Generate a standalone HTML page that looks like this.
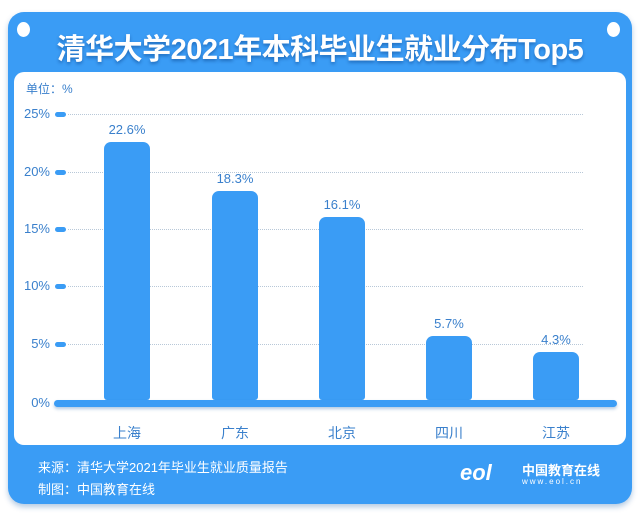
<!DOCTYPE html>
<html><head><meta charset="utf-8"><style>
body{margin:0;width:640px;height:514px;background:#fff;position:relative;overflow:hidden;font-family:"Liberation Sans","Noto Sans CJK SC",sans-serif}
.card{position:absolute;left:8px;top:12px;width:624px;height:492px;background:#3a9cf5;border-radius:16px;box-shadow:0 3px 6px rgba(0,80,160,.3)}
.panel{position:absolute;left:14px;top:72px;width:612px;height:373px;background:#fff;border-radius:10px}
.title{position:absolute;left:0;width:640px;top:26px;text-align:center;color:#fff;font-size:29px;font-weight:bold;text-shadow:0 2px 3px rgba(0,50,120,.45);letter-spacing:-0.5px}
.dot{position:absolute;width:13px;height:15px;border-radius:50%;background:#fff;top:22px}
.yl{position:absolute;right:590px;font-size:13px;color:#3a80cc;text-align:right}
.tick{position:absolute;left:55px;width:11px;height:5px;border-radius:3px;background:#3a9cf5}
.grid{position:absolute;left:68px;width:515px;border-top:1.5px dotted #b8c8d8}
.bar{position:absolute;width:46px;background:#3a9cf5;border-radius:7px 7px 3px 3px}
.vl{position:absolute;width:80px;text-align:center;font-size:13px;color:#3a80cc}
.cl{position:absolute;width:80px;text-align:center;font-size:14px;color:#3a80cc;top:423px}
.ft{position:absolute;left:38px;color:#fff;font-size:13px}
</style></head><body>
<div class="card"></div>
<div class="dot" style="left:17px"></div><div class="dot" style="left:607px"></div>
<div class="title">清华大学2021年本科毕业生就业分布Top5</div>
<div class="panel"></div>
<div style="position:absolute;left:26px;top:80px;font-size:12px;color:#3a80cc">单位：%</div>
<div class="yl" style="top:106px">25%</div><div class="tick" style="top:112px"></div><div class="grid" style="top:114px"></div>
<div class="yl" style="top:164px">20%</div><div class="tick" style="top:170px"></div><div class="grid" style="top:172px"></div>
<div class="yl" style="top:221px">15%</div><div class="tick" style="top:227px"></div><div class="grid" style="top:229px"></div>
<div class="yl" style="top:278px">10%</div><div class="tick" style="top:284px"></div><div class="grid" style="top:286px"></div>
<div class="yl" style="top:336px">5%</div><div class="tick" style="top:342px"></div><div class="grid" style="top:344px"></div>
<div class="yl" style="top:395px">0%</div>
<div class="bar" style="left:104px;top:142px;height:258px"></div>
<div class="bar" style="left:212px;top:191px;height:209px"></div>
<div class="bar" style="left:319px;top:217px;height:183px"></div>
<div class="bar" style="left:426px;top:336px;height:64px"></div>
<div class="bar" style="left:533px;top:352px;height:48px"></div>
<div style="position:absolute;left:54px;top:400px;width:563px;height:7px;border-radius:4px;background:#3a9cf5;box-shadow:0 2px 3px rgba(0,80,160,.3)"></div>
<div class="vl" style="left:87px;top:122px">22.6%</div>
<div class="vl" style="left:195px;top:171px">18.3%</div>
<div class="vl" style="left:302px;top:197px">16.1%</div>
<div class="vl" style="left:409px;top:316px">5.7%</div>
<div class="vl" style="left:516px;top:332px">4.3%</div>
<div class="cl" style="left:87px">上海</div>
<div class="cl" style="left:195px">广东</div>
<div class="cl" style="left:302px">北京</div>
<div class="cl" style="left:409px">四川</div>
<div class="cl" style="left:516px">江苏</div>
<div class="ft" style="top:457px">来源：清华大学2021年毕业生就业质量报告</div>
<div class="ft" style="top:479px">制图：中国教育在线</div>
<div style="position:absolute;left:460px;top:460px;color:#fff;font-size:22px;font-weight:bold;font-style:italic">eol</div>
<div style="position:absolute;left:522px;top:460px;color:#fff;font-size:13px;font-weight:bold">中国教育在线</div>
<div style="position:absolute;left:522px;top:477px;color:#fff;font-size:8px;letter-spacing:2px">www.eol.cn</div>
</body></html>
